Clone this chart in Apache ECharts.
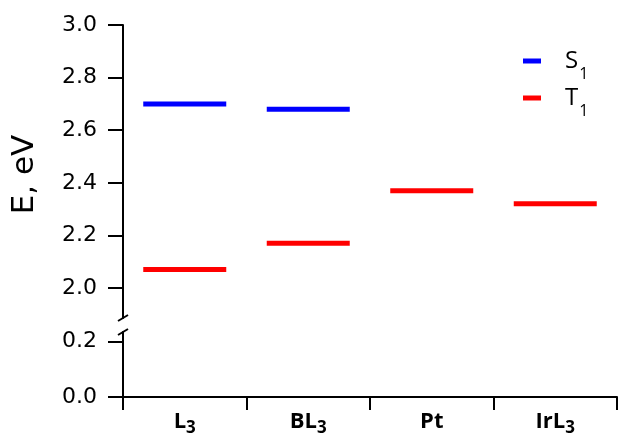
<!DOCTYPE html>
<html>
<head>
<meta charset="utf-8">
<script src="https://cdn.jsdelivr.net/npm/echarts@6/dist/echarts.min.js"></script>
<style>
html,body{margin:0;padding:0;background:#fff;}
#chart{width:620px;height:435px;}
</style>
</head>
<body>
<div id="chart"></div>
<script>
// ---- data ----
var categories = ['L|3', 'BL|3', 'Pt|', 'IrL|3'];
var seriesNames = ['S|1', 'T|1'];
var s1Values = [2.70, 2.68, null, null];
var t1Values = [2.07, 2.17, 2.37, 2.32];
var upperTicks = [2.0, 2.2, 2.4, 2.6, 2.8, 3.0];
var lowerTicks = [0.0, 0.2];

// ---- layout ----
var W = 620, H = 435;
var gridLeft = 123, gridRight = 3;
var upperTop = 25, upperBottomPx = 318;
var lowerTop = 332, lowerBottomPx = 397;
var FONT = 'DejaVu Sans';
var FONT2 = 'Open Sans';

function subLabel(v, main, sub) {
  var p = v.split('|');
  return '{' + main + '|' + p[0] + '}' + (p[1] ? '{' + sub + '|' + p[1] + '}' : '');
}

var chart = echarts.init(document.getElementById('chart'), null, {renderer: 'canvas'});

var axisLineStyle = {color: '#000', width: 2};

var option = {
  backgroundColor: '#fff',
  animation: false,
  textStyle: {fontFamily: FONT},
  legend: {
    orient: 'vertical',
    left: 518,
    top: 44,
    itemWidth: 18,
    itemHeight: 5,
    itemGap: 4,
    icon: 'rect',
    data: seriesNames,
    formatter: function (n) { return subLabel(n, 'm', 's'); },
    textStyle: {
      fontFamily: FONT2,
      fontSize: 24,
      color: '#000',
      padding: [0, 0, 0, 19],
      rich: {
        m: {fontSize: 24, fontFamily: FONT2, color: '#000', lineHeight: 28},
        s: {fontSize: 16, fontFamily: FONT2, color: '#000', lineHeight: 28, verticalAlign: 'bottom', padding: [0, 0, -7, 1]}
      }
    }
  },
  grid: [
    {left: gridLeft, right: gridRight, top: upperTop, bottom: H - upperBottomPx, outerBoundsMode: 'none', containLabel: false},
    {left: gridLeft, right: gridRight, top: lowerTop, bottom: H - lowerBottomPx, outerBoundsMode: 'none', containLabel: false}
  ],
  xAxis: [
    {
      gridIndex: 0, type: 'category', data: categories, boundaryGap: true,
      show: false
    },
    {
      gridIndex: 1, type: 'category', data: categories, boundaryGap: true,
      axisLine: {show: true, lineStyle: axisLineStyle},
      axisTick: {show: true, interval: 0, length: 13, lineStyle: {color: '#000', width: 2}},
      axisLabel: {
        interval: 0,
        margin: 13,
        fontSize: 22, fontWeight: 'bold', fontFamily: FONT2, color: '#000',
        formatter: function (v) { return subLabel(v, 'm', 's'); },
        rich: {
          m: {fontSize: 22, fontWeight: 'bold', fontFamily: FONT2, color: '#000', lineHeight: 24},
          s: {fontSize: 17, fontWeight: 'bold', fontFamily: FONT2, color: '#000', lineHeight: 24, verticalAlign: 'bottom', padding: [0, 0, -3, 0]}
        }
      },
      splitLine: {show: false}
    }
  ],
  yAxis: [
    {
      gridIndex: 0, type: 'value', min: 1.886, max: 3.0,
      name: 'E, eV', nameLocation: 'middle', nameRotate: 90, nameGap: 83,
      nameTextStyle: {fontSize: 31, fontFamily: FONT, color: '#000', padding: [0, 6, 0, 0]},
      axisLine: {show: true, lineStyle: axisLineStyle},
      axisTick: {show: true, length: 15, customValues: upperTicks, lineStyle: {color: '#000', width: 2}},
      axisLabel: {
        customValues: upperTicks, margin: 26, fontSize: 22, fontFamily: FONT, color: '#000',
        formatter: function (v) { return v.toFixed(1); }
      },
      splitLine: {show: false}
    },
    {
      gridIndex: 1, type: 'value', min: 0, max: 0.234,
      axisLine: {show: true, lineStyle: axisLineStyle},
      axisTick: {show: true, length: 15, customValues: lowerTicks, lineStyle: {color: '#000', width: 2}},
      axisLabel: {
        customValues: lowerTicks, margin: 26, fontSize: 22, fontFamily: FONT, color: '#000',
        formatter: function (v) { return v.toFixed(1); }
      },
      splitLine: {show: false}
    }
  ],
  series: [
    {
      name: seriesNames[0], type: 'scatter', xAxisIndex: 0, yAxisIndex: 0,
      symbol: 'rect', symbolSize: [83, 5],
      itemStyle: {color: '#0000ff', opacity: 1},
      data: s1Values
    },
    {
      name: seriesNames[1], type: 'scatter', xAxisIndex: 0, yAxisIndex: 0,
      symbol: 'rect', symbolSize: [83, 5],
      itemStyle: {color: '#ff0000', opacity: 1},
      data: t1Values
    }
  ],
  graphic: [
    {type: 'line', shape: {x1: gridLeft - 5, y1: upperBottomPx + 3, x2: gridLeft + 5, y2: upperBottomPx - 3},
     style: {stroke: '#000', lineWidth: 2}},
    {type: 'line', shape: {x1: gridLeft - 5, y1: lowerTop + 3, x2: gridLeft + 5, y2: lowerTop - 3},
     style: {stroke: '#000', lineWidth: 2}}
  ]
};
chart.setOption(option);
</script>
</body>
</html>
